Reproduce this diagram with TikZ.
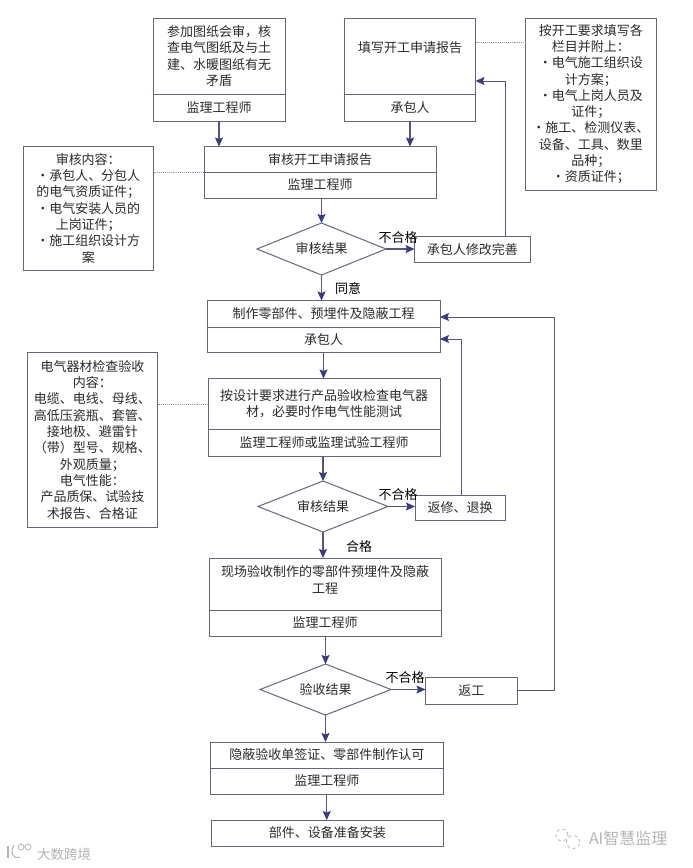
\documentclass[tikz,border=0pt]{standalone}
\usepackage{fontspec}
\setmainfont{Noto Sans CJK SC}
\usetikzlibrary{arrows.meta,shapes.geometric}
\definecolor{boxline}{HTML}{66667A}
\definecolor{flowline}{HTML}{555580}
\definecolor{flowtip}{HTML}{3A3A86}
\definecolor{txt}{HTML}{2A2A2A}
\definecolor{wmgray}{HTML}{B4B4B4}
\tikzset{
  base/.style={draw=boxline,line width=1pt,inner sep=0pt,outer sep=0pt,align=center,text=txt,
    font=\fontsize{13}{16.3}\selectfont},
  plain/.style={inner sep=0pt,outer sep=0pt,align=center,text=txt,font=\fontsize{13}{16.3}\selectfont},
  flow/.style={draw=flowline,line width=1.2pt,-{Stealth[length=9pt,width=8pt,inset=1.5pt,color=flowtip]}},
  return/.style={draw=flowline,line width=1pt,-{Stealth[length=9pt,width=8pt,inset=1.5pt,color=flowtip]}},
  note/.style={draw=boxline!70,line width=0.9pt,densely dotted},
  lab/.style={plain,text=black},
  wm/.style={inner sep=0pt,outer sep=0pt,text=wmgray},
  wmline/.style={draw=wmgray,line width=1.1pt},
}
% name, x0, y0, x1, y1, text
\newcommand{\bx}[6]{%
  \pgfmathsetmacro{\bw}{#4-#2}\pgfmathsetmacro{\bh}{#5-#3}%
  \pgfmathsetmacro{\bcx}{(#2+#4)/2}\pgfmathsetmacro{\bcy}{(#3+#5)/2}%
  \node[base,minimum width=\bw pt,minimum height=\bh pt] (#1) at (\bcx,\bcy) {#6};}
\newcommand{\dm}[6]{%
  \pgfmathsetmacro{\bw}{#4-#2}\pgfmathsetmacro{\bh}{#5-#3}%
  \pgfmathsetmacro{\bcx}{(#2+#4)/2}\pgfmathsetmacro{\bcy}{(#3+#5)/2}%
  \draw[draw=boxline,line width=1pt] (#2,\bcy)--(\bcx,#3)--(#4,\bcy)--(\bcx,#5)--cycle;
  \node[plain] (#1txt) at (\bcx,\bcy) {#6};
  \coordinate (#1n) at (\bcx,#3);\coordinate (#1s) at (\bcx,#5);
  \coordinate (#1e) at (#4,\bcy);}
\begin{document}
\begin{tikzpicture}[x=1pt,y=-1pt]
\useasboundingbox (0,0) rectangle (693,868);
% top row
\bx{At}{153}{18}{285}{94}{参加图纸会审，核\\查电气图纸及与土\\建、水暖图纸有无\\矛盾}
\bx{Ab}{153}{94}{285}{121}{监理工程师}
\bx{Bt}{344.5}{18}{475.5}{94}{}
\node[plain] (Btxt) at (410,48) {填写开工申请报告};
\bx{Bb}{344.5}{94}{475.5}{121}{承包人}
\bx{C}{525.5}{18}{656}{190}{按开工要求填写各\\栏目并附上：\\·电气施工组织设\\计方案；\\·电气上岗人员及\\证件；\\·施工、检测仪表、\\设备、工具、数里\\品种；\\·资质证件；}
\bx{Dt}{204}{146.5}{436}{172}{审核开工申请报告}
\bx{Db}{204}{172}{436}{198}{监理工程师}
\bx{E}{23}{146.5}{153.5}{270}{审核内容：\\·承包人、分包人\\的电气资质证件；\\·电气安装人员的\\上岗证件；\\·施工组织设计方\\案}
\dm{P}{257}{223}{386}{275}{审核结果}
\bx{F}{414.5}{236.5}{530}{262}{承包人修改完善}
% second block
\bx{Gt}{207}{300.5}{440}{327}{制作零部件、预埋件及隐蔽工程}
\bx{Gb}{207}{327}{440}{352}{承包人}
\bx{Ht}{208}{378.5}{440}{429.5}{按设计要求进行产品验收检查电气器\\材，必要时作电气性能测试}
\bx{Hb}{208}{429.5}{440}{456}{监理工程师或监理试验工程师}
\bx{I}{27.5}{352.5}{157.5}{527}{电气器材检查验收\\内容：\\电缆、电线、母线、\\高低压瓷瓶、套管、\\接地极、避雷针\\（带）型号、规格、\\外观质量；\\电气性能：\\产品质保、试验技\\术报告、合格证}
\dm{Q}{258}{481}{388}{532}{审核结果}
\bx{J}{415}{495}{505}{520}{返修、退换}
% third block
\bx{Kt}{209}{558}{441}{610}{}
\node[plain] (Ktxt) at (325,580) {现场验收制作的零部件预埋件及隐蔽\\工程};
\bx{Kb}{209}{610}{441}{636}{监理工程师}
\dm{R}{260}{664}{391}{715}{验收结果}
\bx{N}{425.5}{677.5}{517}{704}{返工}
\bx{Lt}{210.5}{742}{443}{768}{隐蔽验收单签证、零部件制作认可}
\bx{Lb}{210.5}{768}{443}{794}{监理工程师}
\bx{M}{211}{820}{443.5}{846}{部件、设备准备安装}
% flow connectors
\draw[flow] (Ab.south) -- (Ab.south |- Dt.north);
\draw[flow] (Bb.south) -- (Bb.south |- Dt.north);
\draw[flow] (Pn |- Db.south) -- (Pn);
\draw[flow] (Ps) -- (Ps |- Gt.north);
\draw[flow] (Pe) -- (F.west |- Pe);
\draw[flow] (Gb.south) -- (Gb.south |- Ht.north);
\draw[flow] (Qn |- Hb.south) -- (Qn);
\draw[flow] (Qe) -- (J.west |- Qe);
\draw[flow] (Qs) -- (Qs |- Kt.north);
\draw[flow] (Rn |- Kb.south) -- (Rn);
\draw[flow] (Re) -- (N.west |- Re);
\draw[flow] (Rs) -- (Rs |- Lt.north);
\draw[flow] (Lb.south) -- (Lb.south |- M.north);
% return connectors
\coordinate (Fup) at (505,236.5);
\coordinate (Fin) at (475.5,81);
\draw[return] (Fup) -- (Fup |- Fin) -- (Fin);
\coordinate (Jup) at (461,495);
\coordinate (Jin) at (440,339);
\draw[return] (Jup) -- (Jup |- Jin) -- (Jin);
\coordinate (Nout) at (517,690.5);
\coordinate (Ncorner) at (554,317);
\coordinate (Nin) at (440,317);
\draw[return] (Nout) -- (Ncorner |- Nout) -- (Ncorner) -- (Nin);
% dotted notes
\coordinate (Cl) at (525.5,42.5);
\draw[note] (Bt.east |- Cl) -- (Cl);
\draw[note] (E.east |- Dt.south) -- (Dt.south west);
\coordinate (Il) at (157.5,404);
\draw[note] (Il) -- (Ht.west |- Il);
% labels
\node[lab] (l1) at (398,238) {不合格};
\node[lab] (l2) at (348,289) {同意};
\node[lab] (l3) at (398,495) {不合格};
\node[lab] (l4) at (359,547) {合格};
\node[lab] (l5) at (405,678) {不合格};
% watermarks
\node[wm,anchor=west,font=\fontsize{13.5}{14}\selectfont] (w1) at (37,854) {大数跨境};
\draw[wmline] (8,846) -- (8,858);
\draw[wmline] (20,857) .. controls (12,860) and (10,851) .. (14,845);
\draw[wmline,line width=0.8pt] (21,847) circle[radius=3pt] (28,847) circle[radius=3pt];
\node[wm,anchor=west,font=\fontsize{16}{16}\selectfont] (w2) at (589,838) {AI智慧监理};
\draw[wmline,line width=0.8pt,dashed] (562,835) circle[radius=6pt];
\draw[wmline,line width=0.8pt,dashed] (573,842) circle[radius=6.5pt];
\end{tikzpicture}
\end{document}
